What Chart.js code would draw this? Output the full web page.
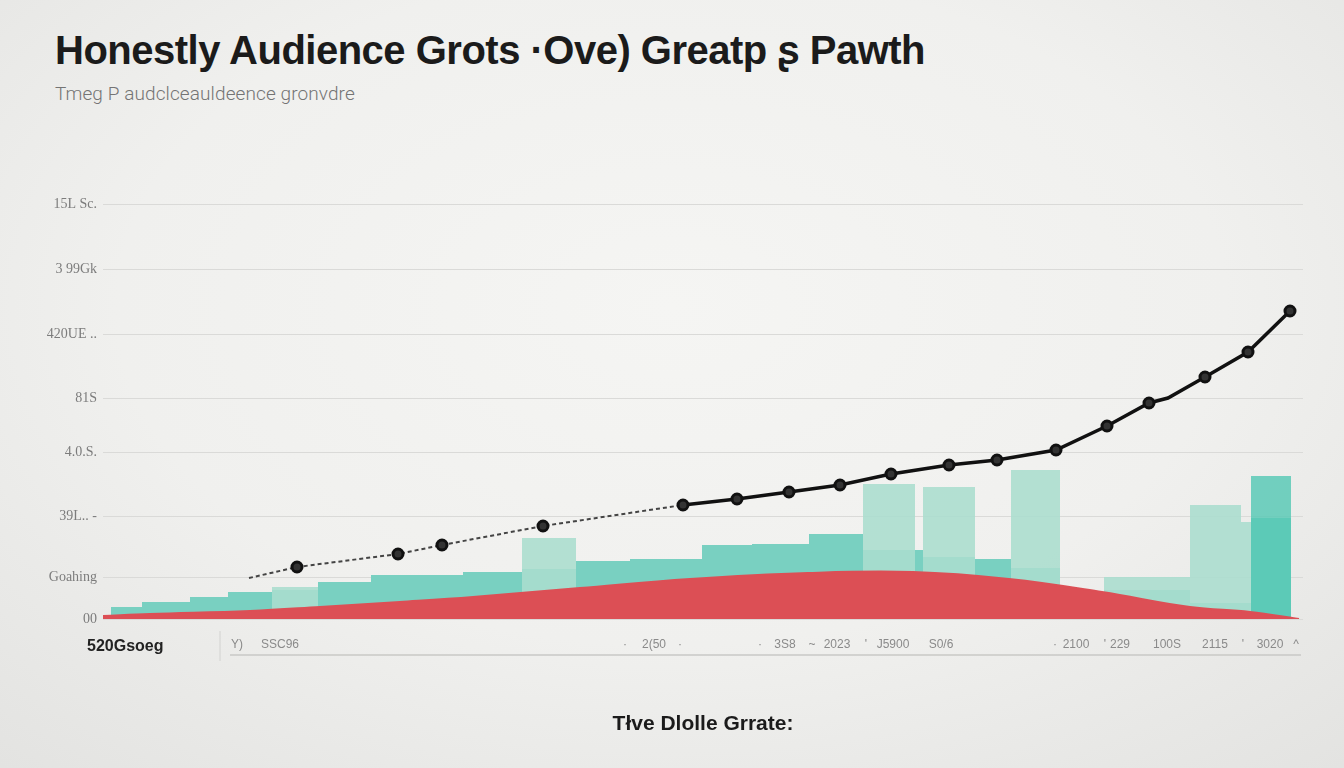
<!DOCTYPE html>
<html>
<head>
<meta charset="utf-8">
<script src="https://cdn.jsdelivr.net/npm/chart.js@4.4.1/dist/chart.umd.min.js"></script>
<style>
  html, body { margin: 0; padding: 0; }
  body {
    width: 1344px; height: 768px; overflow: hidden; position: relative;
    background: radial-gradient(ellipse 75% 80% at 50% 40%, #f5f5f3 0%, #f0f0ee 55%, #e3e3e1 100%);
    font-family: "Liberation Sans", Arial, sans-serif;
  }
  #title {
    position: absolute; left: 55px; top: 30px; margin: 0;
    font-size: 40px; line-height: 40px; font-weight: bold; color: #1b1b1b;
    letter-spacing: -0.5px; white-space: nowrap;
  }
  #subtitle {
    position: absolute; left: 55px; top: 84px; margin: 0;
    font-family: Roboto, sans-serif; font-weight: 300;
    font-size: 19px; line-height: 19px; color: #747474; letter-spacing: 0.1px; white-space: nowrap;
  }
  canvas { position: absolute; left: 0; top: 0; }
</style>
</head>
<body>
<h1 id="title">Honestly Audience Grots ·Ove) Greatp ʂ Pawth</h1>
<p id="subtitle">Tmeg P audclceauldeence gronvdre</p>
<canvas id="c" width="1344" height="768"></canvas>
<script>
// ---- tick labels ----
const yTickValues = [0, 8.4, 20.6, 33.4, 44.2, 57, 70, 83];
const yTickLabels = ['00', 'Goahing', '39L.. -', '4.0.S.', '81S', '420UE ..', '3 99Gk', '15L Sc.'];
const xTickValues = [13.4, 17.7, 52.2, 55.1, 57.7, 65.7, 68.2, 70.9, 73.4, 76.3, 79.0, 83.8, 95.2, 97.3, 100.2, 101.7, 106.4, 111.2, 114.0, 116.7, 119.3];
const xTickLabels = ['Y)', 'SSC96', '·', '2(50', '·', '·', '3S8', '~', '2023', "'", 'J5900', 'S0/6', '·', '2100', "'", '229', '100S', '2115', "'", '3020', '^'];
const cornerLabel = '520Gsoeg';
const axisTitle = 'Tłve Dlolle Grrate:';

// ---- black growth line ----
const lineX = [14.6, 19.4, 29.5, 33.9, 44.0, 58.0, 63.4, 68.6, 73.7, 78.8, 84.6, 89.4, 95.3, 100.4, 104.6, 106.5, 110.2, 114.5, 118.7];
const lineY = [8.2, 10.4, 13.0, 14.8, 18.6, 22.8, 24.0, 25.4, 26.8, 29.0, 30.8, 31.8, 33.8, 38.6, 43.2, 44.2, 48.4, 53.4, 61.6];
const lineMarker = [0, 1, 1, 1, 1, 1, 1, 1, 1, 1, 1, 1, 1, 1, 1, 0, 1, 1, 1];
const dashedUntil = 58.0;

// ---- red area ----
const redX = [0, 4.7, 14.7, 21.7, 29.7, 37, 47.7, 58.7, 70.5, 81, 90.6, 99.9, 108.7, 114.7, 119.6];
const redY = [0.6, 1.0, 1.6, 2.4, 3.4, 4.4, 6.2, 8.0, 9.2, 9.4, 8.0, 5.4, 2.4, 1.4, 0];

// ---- teal stepped base ----
const tealX = [0.8, 3.9, 8.7, 12.5, 16.9, 21.5, 26.8, 36.0, 41.9, 47.3, 52.7, 59.9, 64.9, 70.6, 76.0, 82.0, 87.2, 90.8, 95.7, 100.1, 108.7, 114.8, 118.8];
const tealY = [2.4, 3.4, 4.4, 5.4, 5.8, 7.4, 8.8, 9.4, 10.0, 11.6, 12.0, 14.8, 15.0, 17.0, 13.8, 12.4, 12.0, 10.2, 5.0, 5.8, 3.2, 20.2, 20.2];

// ---- light teal bars ----
const lightStart = [16.9, 41.9, 76.0, 82.0, 90.8, 100.1, 108.7, 113.8];
const lightEnd   = [21.5, 47.3, 81.2, 87.2, 95.7, 108.7, 113.8, 114.8];
const lightY     = [6.4, 16.2, 27.0, 26.4, 29.8, 8.4, 22.8, 19.4];

// ---- dark teal bar ----
const darkStart = [114.8];
const darkEnd   = [118.8];
const darkY     = [28.6];

function rects(starts, ends, heights) {
  const pts = [];
  starts.forEach((s, i) => {
    pts.push({x: s, y: heights[i]});
    pts.push({x: ends[i], y: heights[i]});
    pts.push({x: ends[i], y: null});
  });
  return pts;
}
const zip = (xs, ys) => xs.map((x, i) => ({x, y: ys[i]}));

const decor = {
  id: 'decor',
  afterDraw(chart) {
    const {ctx, chartArea} = chart;
    const xs = chart.scales.x;
    const b = chartArea.bottom;
    ctx.save();
    ctx.strokeStyle = '#c8c8c6';
    ctx.lineWidth = 1.5;
    ctx.beginPath();
    ctx.moveTo(xs.getPixelForValue(12.7), b + 36);
    ctx.lineTo(chartArea.right - 2, b + 36);
    ctx.stroke();
    ctx.strokeStyle = '#d2d2d0';
    ctx.lineWidth = 1;
    ctx.beginPath();
    ctx.moveTo(xs.getPixelForValue(11.7), b + 12);
    ctx.lineTo(xs.getPixelForValue(11.7), b + 42);
    ctx.stroke();
    ctx.font = 'bold 16px "Liberation Sans", Arial, sans-serif';
    ctx.fillStyle = '#222';
    ctx.textBaseline = 'middle';
    ctx.textAlign = 'left';
    ctx.fillText(cornerLabel, 87, b + 28);
    ctx.restore();
  }
};

new Chart(document.getElementById('c'), {
  type: 'line',
  data: {
    datasets: [
      {
        label: 'growth',
        data: zip(lineX, lineY),
        order: 0,
        borderColor: '#111',
        borderWidth: 3.5,
        tension: 0,
        fill: false,
        pointRadius: ctx => lineMarker[ctx.dataIndex] ? 5 : 0,
        pointBorderWidth: 3,
        pointBorderColor: '#111',
        pointBackgroundColor: '#333',
        segment: {
          borderDash: ctx => ctx.p1.parsed.x <= dashedUntil ? [4, 3] : undefined,
          borderWidth: ctx => ctx.p1.parsed.x <= dashedUntil ? 2 : 3.5,
          borderColor: ctx => ctx.p1.parsed.x <= dashedUntil ? '#444' : '#111'
        }
      },
      {
        label: 'red',
        data: zip(redX, redY),
        order: 1,
        borderColor: '#dc4f55',
        borderWidth: 2,
        backgroundColor: '#dc4f55',
        fill: 'origin',
        tension: 0.4,
        pointRadius: 0
      },
      {
        label: 'dark',
        data: rects(darkStart, darkEnd, darkY),
        order: 2,
        borderWidth: 0,
        backgroundColor: 'rgba(86,200,181,0.82)',
        fill: 'origin',
        pointRadius: 0,
        spanGaps: false
      },
      {
        label: 'light',
        data: rects(lightStart, lightEnd, lightY),
        order: 3,
        borderWidth: 0,
        backgroundColor: 'rgba(170,221,206,0.88)',
        fill: 'origin',
        pointRadius: 0,
        spanGaps: false
      },
      {
        label: 'teal',
        data: zip(tealX, tealY),
        order: 4,
        stepped: 'before',
        borderWidth: 0,
        backgroundColor: '#79d0c1',
        fill: 'origin',
        pointRadius: 0
      }
    ]
  },
  options: {
    responsive: false,
    animation: false,
    devicePixelRatio: 1,
    layout: { padding: { left: 0, right: 41, top: 204, bottom: 31 } },
    plugins: { legend: { display: false }, tooltip: { enabled: false }, title: { display: false } },
    scales: {
      x: {
        type: 'linear', min: 0, max: 120,
        grid: { display: false },
        border: { display: false },
        afterBuildTicks: s => { s.ticks = xTickValues.map(v => ({value: v})); },
        afterFit: s => { s.height = 118; },
        ticks: {
          autoSkip: false, maxRotation: 0, padding: 10,
          color: '#8a8a8a',
          font: { family: '"Liberation Sans", Arial, sans-serif', size: 12 },
          callback: (v, i) => xTickLabels[i]
        },
        title: {
          display: true, text: axisTitle, color: '#1b1b1b',
          font: { family: '"Liberation Sans", Arial, sans-serif', size: 21, weight: 'bold' },
          padding: 0
        }
      },
      y: {
        type: 'linear', min: 0, max: 83,
        grid: { color: '#dadad8', lineWidth: 1, drawTicks: false },
        border: { display: false },
        afterBuildTicks: s => { s.ticks = yTickValues.map(v => ({value: v})); },
        afterFit: s => { s.width = 103; },
        ticks: {
          autoSkip: false, padding: 6,
          color: '#7c7c7c',
          font: { family: '"Liberation Serif", serif', size: 14 },
          callback: (v, i) => yTickLabels[i]
        }
      }
    }
  },
  plugins: [decor]
});
</script>
</body>
</html>
